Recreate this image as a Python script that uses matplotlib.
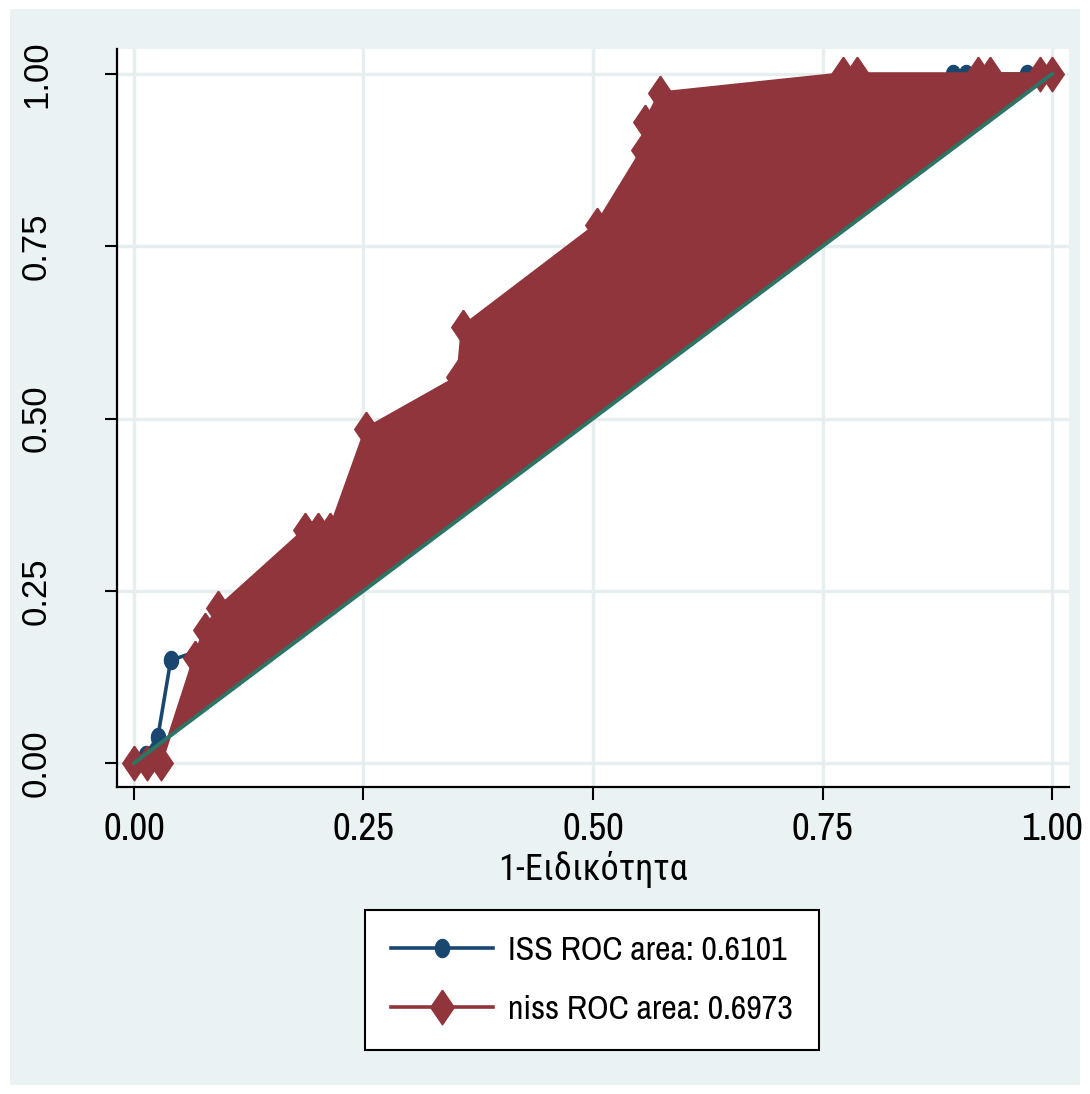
import matplotlib.pyplot as plt
import matplotlib.font_manager as fm
from matplotlib.patches import Rectangle
import numpy as np

# --- values ---
iss_x = [0.0, 0.013, 0.026, 0.040, 0.090, 0.200, 0.350, 0.500, 0.650, 0.800, 0.892, 0.906, 0.973, 1.0]
iss_y = [0.0, 0.012, 0.038, 0.149, 0.172, 0.280, 0.430, 0.600, 0.750, 0.880, 1.0, 1.0, 1.0, 1.0]

niss_x = [0.0, 0.014, 0.029, 0.066, 0.077, 0.092, 0.186, 0.200, 0.2135, 0.253, 0.353, 0.358,
          0.504, 0.554, 0.557, 0.573, 0.772, 0.788, 0.919, 0.932, 0.987, 1.0]
niss_y = [0.0, 0.0, 0.0, 0.152, 0.193, 0.225, 0.338, 0.338, 0.338, 0.485, 0.560, 0.633,
          0.781, 0.890, 0.930, 0.972, 1.0, 1.0, 1.0, 1.0, 1.0, 1.0]

labels = ["ISS ROC area: 0.6101", "niss ROC area: 0.6973"]
ticks = [0.0, 0.25, 0.50, 0.75, 1.0]
tick_labels = ["0.00", "0.25", "0.50", "0.75", "1.00"]
xlabel = "1-Ειδικότητα"

navy = "#1a476f"
maroon = "#90353b"
ref_green = "#2b7565"
bg = "#eaf2f3"
grid_col = "#e6eef0"


def pick_font(candidates, needs=""):
    # first installed family that has every char in `needs`
    for name in candidates:
        for f in fm.fontManager.ttflist:
            if f.name == name and f.style == "normal":
                try:
                    ft = fm.get_font(f.fname)
                    if all(ft.get_char_index(ord(c)) for c in needs):
                        return f.fname
                except Exception:
                    pass
    return None


narrow_cands = ["Liberation Sans Narrow", "Arial Narrow", "Archivo Narrow", "Roboto Condensed",
                "Open Sans Condensed", "Barlow Semi Condensed"]
narrow_file = pick_font(narrow_cands, "0123456789.")
greek_file = pick_font(narrow_cands + ["Noto Sans Condensed"], "1-Ειδικότητα")

narrow_fp = fm.FontProperties(fname=narrow_file) if narrow_file else fm.FontProperties(family="Liberation Sans")
if greek_file:
    greek_fp = fm.FontProperties(fname=greek_file)
else:
    greek_fp = fm.FontProperties(family="DejaVu Sans", stretch="condensed")

plt.rcParams["font.family"] = ["Liberation Sans", "DejaVu Sans"]

# markers look stretched vertically in the original export
diamond = [(0, 1), (0.68, 0), (0, -1), (-0.68, 0), (0, 1)]
t = np.linspace(0, 2 * np.pi, 40)
ellipse = list(zip(0.78 * np.cos(t), np.sin(t)))

fig = plt.figure(figsize=(10.9, 10.94), dpi=100, facecolor="white")
fig.patches.append(Rectangle((10 / 1090, 9 / 1094), 1070 / 1090, 1076 / 1094,
                             transform=fig.transFigure, facecolor=bg, edgecolor="none", zorder=-10))

ax = fig.add_axes([0.10734, 0.28062, 0.87339, 0.67459])
ax.set_facecolor("white")

ax.plot(iss_x, iss_y, color=navy, lw=2.6, marker=ellipse, ms=13, mec=navy, mfc=navy,
        label=labels[0], zorder=2)
ax.fill(niss_x, niss_y, color=maroon, lw=0, zorder=3)
ax.plot(niss_x, niss_y, color=maroon, lw=2.6, marker=diamond, ms=25, mec=maroon, mfc=maroon,
        label=labels[1], zorder=4)
ax.plot([0, 1], [0, 1], color=ref_green, lw=2.8, zorder=5)

ax.set_xlim(-0.0185, 1.0185)
ax.set_ylim(-0.0348, 1.0363)
ax.set_xticks(ticks)
ax.set_xticklabels(tick_labels, fontproperties=narrow_fp, fontsize=28)
ax.set_yticks(ticks)
ax.set_yticklabels(tick_labels, fontsize=25, rotation=90, va="center")
ax.tick_params(axis="x", length=9, width=1.5, pad=9)
ax.tick_params(axis="y", length=9, width=1.5, pad=37)
ax.grid(True, color=grid_col, lw=2.4, zorder=0)
ax.set_axisbelow(True)
for s in ["top", "right"]:
    ax.spines[s].set_visible(False)
for s in ["left", "bottom"]:
    ax.spines[s].set_linewidth(1.6)

ax.set_xlabel(xlabel, fontproperties=greek_fp, fontsize=26, labelpad=3)

leg_fp = narrow_fp.copy()
leg_fp.set_size(24.5)
leg = ax.legend(loc="center", bbox_to_anchor=(0.543, 0.104), bbox_transform=fig.transFigure,
                prop=leg_fp, frameon=True, fancybox=False,
                edgecolor="black", framealpha=1, handlelength=3.0, handletextpad=0.45,
                labelspacing=0.85, borderpad=0.75, borderaxespad=0)
leg.get_frame().set_linewidth(1.5)

fig.savefig("out.png", dpi=100, facecolor="white")
